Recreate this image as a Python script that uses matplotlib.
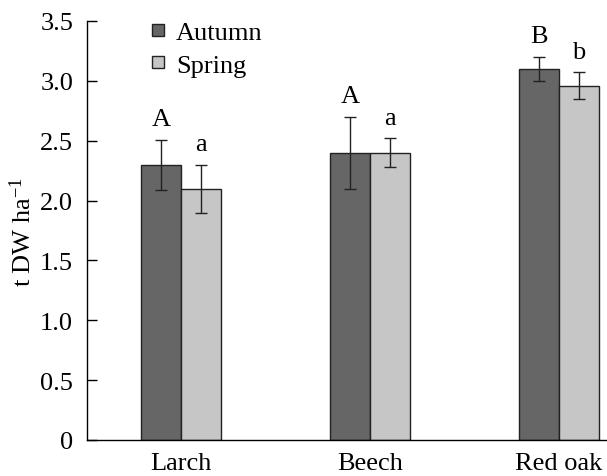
import numpy as np
import matplotlib
matplotlib.use('agg')
import matplotlib.pyplot as plt
from matplotlib.lines import Line2D

plt.rcParams['font.family'] = ['Liberation Serif', 'DejaVu Serif']
plt.rcParams['mathtext.fontset'] = 'custom'
plt.rcParams['mathtext.rm'] = 'Liberation Serif'

species = ['Larch', 'Beech', 'Red oak']
autumn = [2.30, 2.40, 3.10]
autumn_err = [0.21, 0.30, 0.10]
spring = [2.10, 2.40, 2.96]
spring_err = [0.20, 0.12, 0.11]
autumn_letters = ['A', 'A', 'B']
spring_letters = ['a', 'a', 'b']

dark = '#666666'
light = '#c5c6c5'
fs = 19

fig = plt.figure(figsize=(6.07, 4.77), dpi=100)
ax = fig.add_axes([0.1433, 0.0755, 0.8567, 0.8784])

x = np.arange(len(species))
w = 0.21
ekw = dict(ecolor='#222222', elinewidth=1.0, capsize=4, capthick=1.0)
ax.bar(x - w/2, autumn, w, color=dark, edgecolor='#222222', linewidth=1.0,
       yerr=autumn_err, error_kw=ekw)
ax.bar(x + w/2, spring, w, color=light, edgecolor='#222222', linewidth=1.0,
       yerr=spring_err, error_kw=ekw)

for i in range(len(species)):
    ax.text(x[i] - w/2, autumn[i] + autumn_err[i] + 0.08, autumn_letters[i],
            ha='center', va='bottom', fontsize=fs)
    ax.text(x[i] + w/2, spring[i] + spring_err[i] + 0.08, spring_letters[i],
            ha='center', va='bottom', fontsize=fs)

ax.set_xlim(-0.497, 2.254)
ax.set_ylim(0, 3.5)
ax.set_yticks(np.arange(0, 3.51, 0.5))
ax.set_yticklabels(['0'] + ['%.1f' % v for v in np.arange(0.5, 3.51, 0.5)])
ax.set_xticks(x)
ax.set_xticklabels(species)
ax.tick_params(axis='y', direction='in', length=7, width=1, labelsize=fs, pad=10)
ax.tick_params(axis='x', length=0, labelsize=fs, pad=9)
for s in ['top', 'right']:
    ax.spines[s].set_visible(False)
ax.spines['left'].set_linewidth(1)
ax.spines['bottom'].set_linewidth(1)
ax.set_ylabel(r't DW $\mathregular{ha^{-1}}$', fontsize=fs, labelpad=3)

handles = [Line2D([], [], marker='s', linestyle='none', markersize=8,
                  markerfacecolor=dark, markeredgecolor='#222222'),
           Line2D([], [], marker='s', linestyle='none', markersize=8,
                  markerfacecolor=light, markeredgecolor='#222222')]
ax.legend(handles, ['Autumn', 'Spring'], loc='upper left', bbox_to_anchor=(0.075, 1.058),
          frameon=False, fontsize=fs, handlelength=0.6, handletextpad=0.4, labelspacing=0.35)

fig.savefig('out.png', dpi=100)
